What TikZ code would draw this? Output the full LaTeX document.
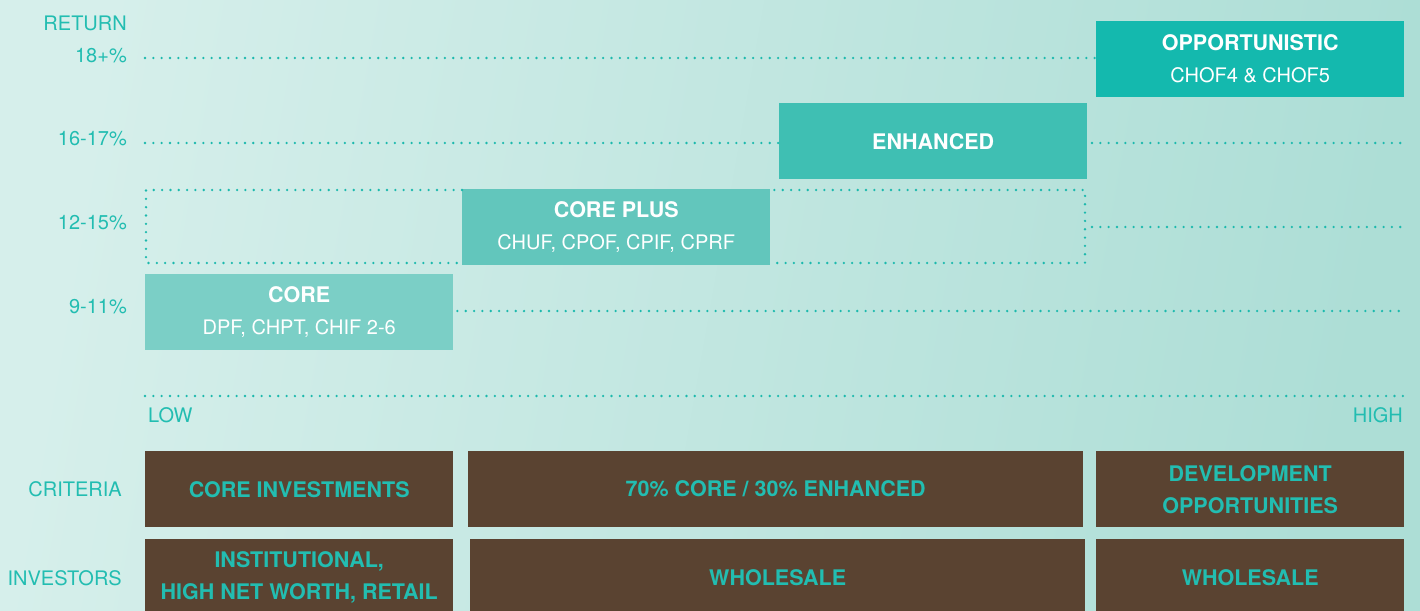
\documentclass[tikz,border=0pt]{standalone}
\usepackage{fontspec}
\setmainfont{TeX Gyre Heros}
\definecolor{bgA}{HTML}{D6EFEB}
\definecolor{bgB}{HTML}{ADDED6}
\definecolor{tealtxt}{HTML}{22BDB1}
\definecolor{dotc}{HTML}{1CB9AD}
\definecolor{cOpp}{HTML}{14B9AE}
\definecolor{cEnh}{HTML}{3FBFB3}
\definecolor{cPlus}{HTML}{62C6BC}
\definecolor{cCore}{HTML}{7BCFC6}
\definecolor{brown}{HTML}{5A4331}
\newcommand{\boxtitle}[1]{{\bfseries\fontsize{21.5}{32}\selectfont #1}}
\begin{document}
\begin{tikzpicture}[x=1pt,y=-1pt,
  axislabel/.style={text=tealtxt,font=\fontsize{20}{24}\selectfont,inner sep=0pt},
  fund/.style={anchor=north west,minimum width=308pt,minimum height=76pt,inner sep=0pt,
    text=white,align=center,font=\fontsize{20}{32}\selectfont},
  crit/.style={anchor=north west,fill=brown,minimum height=76pt,inner sep=0pt,
    text=tealtxt,align=center,font=\bfseries\fontsize{21.5}{32}\selectfont},
  dots/.style={draw=dotc,line width=2.6pt,line cap=round,dash pattern=on 0pt off 8.33pt}]
\useasboundingbox (0,0) rectangle (1420,610);
\clip (0,0) rectangle (1420,610);
% background wash
\shade[left color=bgA,right color=bgB,shading angle=80] (0,0) rectangle (1420,610);

% return scale labels
\node[axislabel,anchor=east] (ret) at (127,23) {RETURN};
\node[axislabel,anchor=east] (r18) at (127,56) {18+\%};
\node[axislabel,anchor=east] (r16) at (127,139) {16-17\%};
\node[axislabel,anchor=east] (r12) at (127,223) {12-15\%};
\node[axislabel,anchor=east] (r9)  at (127,307) {9-11\%};
\node[axislabel,anchor=west] (low) at (148,415) {LOW};
\node[axislabel,anchor=east] (high) at (1403,415) {HIGH};
\node[axislabel,anchor=east] (crl) at (122,489) {CRITERIA};
\node[axislabel,anchor=east] (inl) at (122,578) {INVESTORS};

% fund strategy boxes
\node[fund,fill=cOpp] (opp) at (1096,21) {\boxtitle{OPPORTUNISTIC}\\CHOF4 \& CHOF5};
\node[fund,fill=cEnh] (enh) at (779,103) {\boxtitle{ENHANCED}};
\node[fund,fill=cPlus] (plus) at (462,189) {\boxtitle{CORE PLUS}\\CHUF, CPOF, CPIF, CPRF};
\node[fund,fill=cCore] (core) at (145,274) {\boxtitle{CORE}\\DPF, CHPT, CHIF 2-6};

% dotted return levels
\coordinate (a18) at (145,58);
\coordinate (a16) at (145,143);
\coordinate (b16) at (1092,143);
\coordinate (e16) at (1404,143);
\coordinate (b12) at (1092,227);
\coordinate (e12) at (1404,227);
\coordinate (e9) at (1404,311);
\coordinate (ax0) at (145,396);
\coordinate (ax1) at (1404,396);
\draw[dots] (a18) -- (opp.west |- a18);
\draw[dots] (a16) -- (enh.west |- a16);
\draw[dots] (b16) -- (e16);
\draw[dots] (b12) -- (e12);
\draw[dots] (core.east |- e9) ++(4,0) -- (e9);
\draw[dots] (ax0) -- (ax1);
% dotted band around the core plus range
\coordinate (bt0) at (146,190);
\coordinate (bb0) at (146,263);
\coordinate (bt1) at (1085,190);
\coordinate (bb1) at (1085,263);
\draw[dots] (plus.west |- bt0) -- (bt0) -- (bb0) -- (plus.west |- bb0);
\draw[dots] (plus.east |- bt0) ++(4,0) -- (bt1) -- (bb1) -- ([xshift=4pt]plus.east |- bb1);

% criteria row
\node[crit,minimum width=308pt] (c1) at (145,451) {CORE INVESTMENTS};
\node[crit,minimum width=615pt] (c2) at (468,451) {70\% CORE / 30\% ENHANCED};
\node[crit,minimum width=308pt] (c3) at (1096,451) {DEVELOPMENT\\OPPORTUNITIES};
% investor row
\node[crit,minimum width=308pt] (i1) at (145,539) {INSTITUTIONAL,\\HIGH NET WORTH, RETAIL};
\node[crit,minimum width=615pt] (i2) at (470,539) {WHOLESALE};
\node[crit,minimum width=308pt] (i3) at (1096,539) {WHOLESALE};
\end{tikzpicture}
\end{document}
